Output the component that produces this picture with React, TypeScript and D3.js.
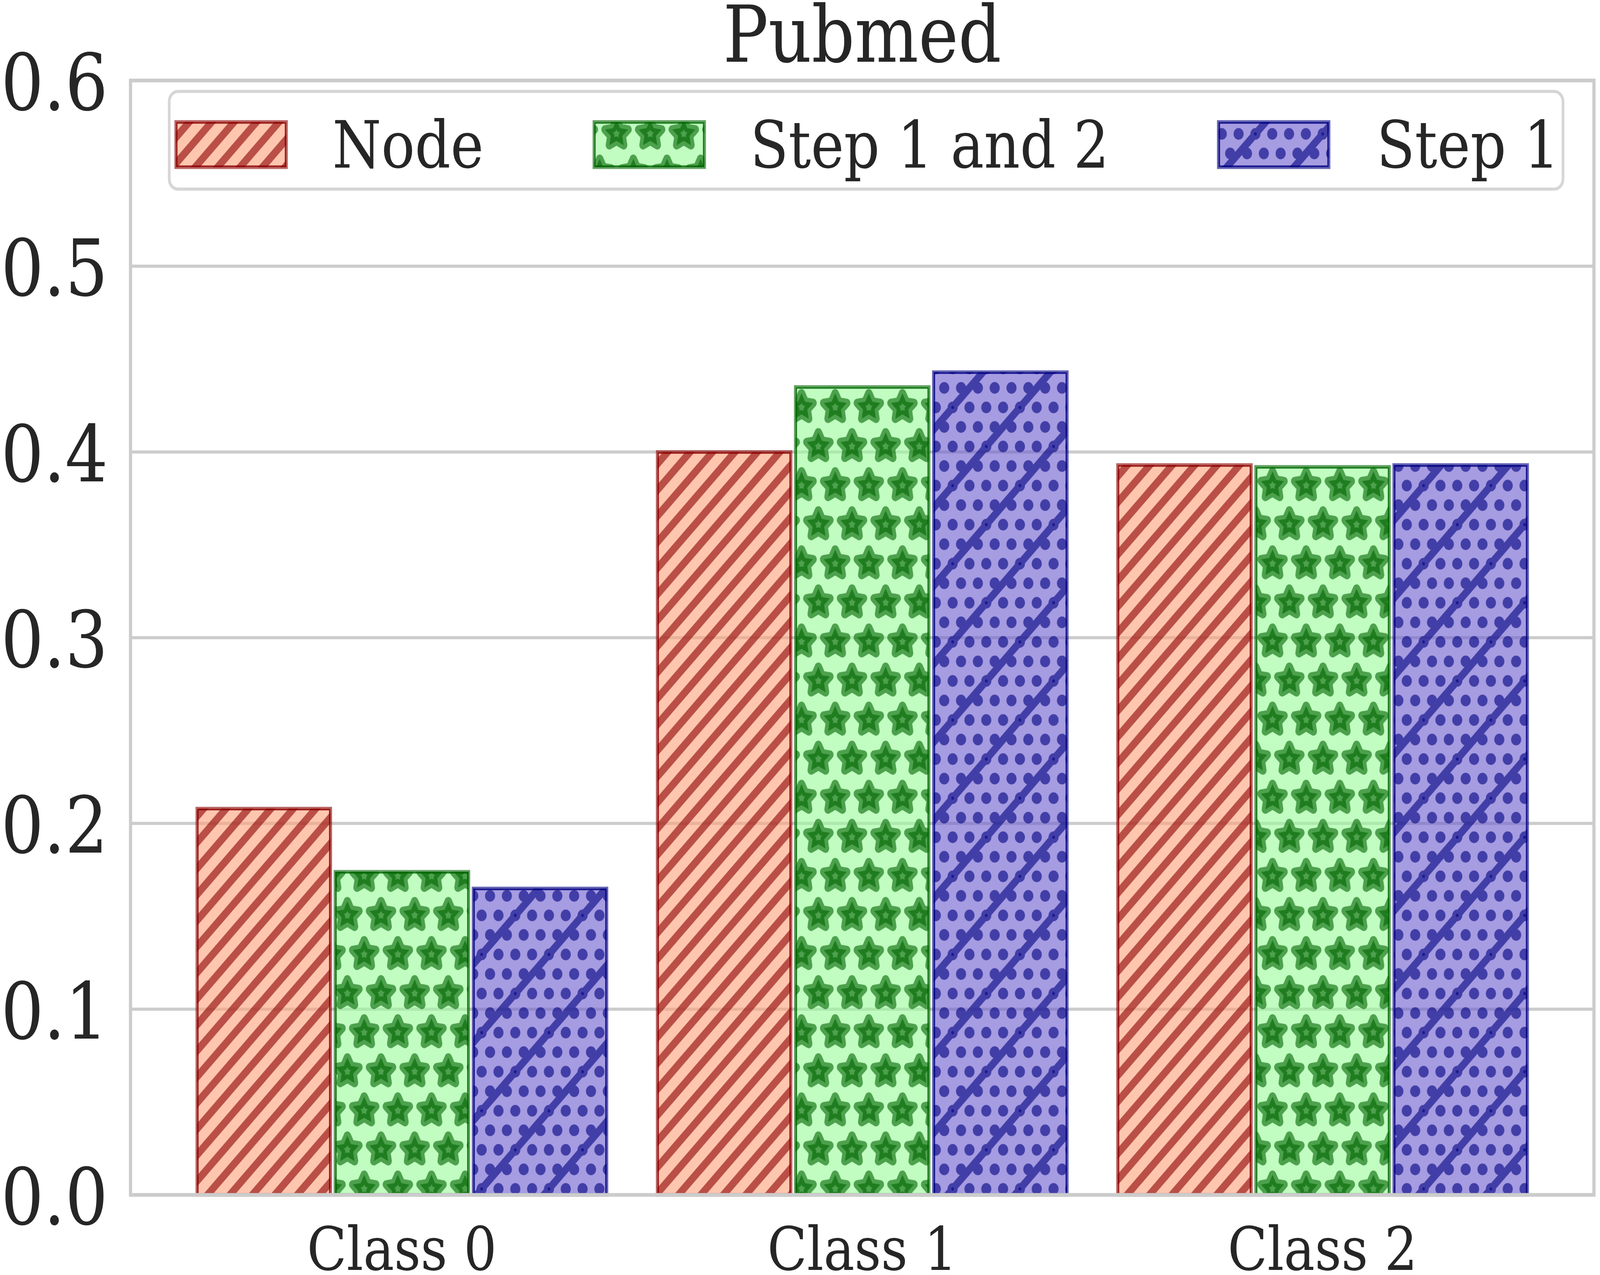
import React from 'react';
import * as d3 from 'd3';

// ---- data ----
const categories = ['Class 0', 'Class 1', 'Class 2'];
const seriesNames = ['Node', 'Step 1 and 2', 'Step 1'];
const nodeValues = [0.208, 0.4, 0.393];
const step12Values = [0.174, 0.435, 0.392];
const step1Values = [0.165, 0.443, 0.393];
const yTicks = [0, 0.1, 0.2, 0.3, 0.4, 0.5, 0.6];
const chartTitle = 'Pubmed';

const seriesValues = [nodeValues, step12Values, step1Values];
const seriesOffsets = [-0.3, 0, 0.3];
const barWidth = 0.29;

const seriesStyles = [
  { fill: '#ffa07a', dark: '#8b0000', pat: 'hatchRed' },
  { fill: '#98fb98', dark: '#006400', pat: 'hatchGreen' },
  { fill: '#6a5acd', dark: '#000080', pat: 'hatchBlue' },
];

const W = 4756;
const H = 3263;
const M = { left: 388, right: 4738, top: 206, bottom: 3058 };
const FONT = '"DejaVu Serif", serif';
const TEXT = '#262626';

function starPath(R: number, r: number) {
  const pts: [number, number][] = [];
  for (let k = 0; k < 10; k++) {
    const a = -Math.PI / 2 + (k * Math.PI) / 5;
    const rad = k % 2 === 0 ? R : r;
    pts.push([rad * Math.cos(a), rad * Math.sin(a)]);
  }
  return 'M' + pts.map((p) => p[0].toFixed(2) + ',' + p[1].toFixed(2)).join('L') + 'Z';
}

function Bar({ x, y, w, h, s }: { x: number; y: number; w: number; h: number; s: typeof seriesStyles[0] }) {
  return (
    <g>
      <rect x={x} y={y} width={w} height={h} fill={s.fill} fillOpacity={0.6} />
      <rect x={x} y={y} width={w} height={h} fill={`url(#${s.pat})`} />
      <rect x={x} y={y} width={w} height={h} fill="none" stroke={s.dark} strokeOpacity={0.6} strokeWidth={9} />
      <rect x={x + 2.5} y={y + 2.5} width={Math.max(0, w - 5)} height={Math.max(0, h - 5)} fill="none" stroke={s.dark} strokeOpacity={0.6} strokeWidth={4} />
    </g>
  );
}

export default function App() {
  const x = d3.scaleLinear().domain([-0.5895, 2.5895]).range([M.left, M.right]);
  const y = d3.scaleLinear().domain([0, 0.6]).range([M.bottom, M.top]);
  const bw = x(barWidth) - x(0);

  // pattern pieces
  const redP = 200 / 3;
  const star = starPath(36, 18);
  const starCenters: [number, number][] = [
    [0, 0], [100, 0], [0, 200], [100, 200], [50, 100], [-50, 100], [150, 100],
  ];
  const blueCircles: [number, number][] = [];
  for (let k = -1; k <= 5; k++) {
    const yy = k * 50;
    const off = Math.abs(k) % 2 === 1 ? 25 : 0;
    for (let xx = -50 + off; xx <= 250; xx += 50) blueCircles.push([xx, yy]);
  }
  const blueDots: [number, number][] = [[0, 0], [200, 0], [100, 100], [0, 200], [200, 200]];

  const legendItems = [
    { px: 523, tx: 988 },
    { px: 1766, tx: 2230 },
    { px: 3622, tx: 4092 },
  ];

  return (
    <svg
      viewBox={`0 0 ${W} ${H}`}
      preserveAspectRatio="none"
      style={{ position: 'fixed', left: 0, top: 0, width: '100vw', height: '100vh', background: '#fff', display: 'block' }}
    >
      <defs>
        <pattern id="hatchRed" patternUnits="userSpaceOnUse" x={8} y={0} width={redP} height={redP}>
          <g stroke="#8b0000" strokeOpacity={0.6} strokeWidth={20}>
            <line x1={-20} y1={20} x2={20} y2={-20} />
            <line x1={-20} y1={redP + 20} x2={redP + 20} y2={-20} />
            <line x1={redP - 20} y1={redP + 20} x2={redP + 20} y2={redP - 20} />
          </g>
        </pattern>
        <pattern id="hatchGreen" patternUnits="userSpaceOnUse" x={32.6} y={142.5} width={100} height={200}>
          {starCenters.map((c, i) => (
            <path key={i} d={star} transform={`translate(${c[0]},${c[1]})`} fill="#006400" fillOpacity={0.6}
              stroke="#006400" strokeOpacity={0.6} strokeWidth={22} strokeLinejoin="round" />
          ))}
        </pattern>
        <pattern id="hatchBlue" patternUnits="userSpaceOnUse" x={31.7} y={42.7} width={200} height={200}>
          <g opacity={0.6}>
            {blueCircles.map((c, i) => (
              <circle key={i} cx={c[0]} cy={c[1]} r={15} fill="#000080" />
            ))}
            <g stroke="#000080" strokeWidth={20}>
              <line x1={-30} y1={30} x2={30} y2={-30} />
              <line x1={-30} y1={230} x2={230} y2={-30} />
              <line x1={170} y1={230} x2={230} y2={170} />
            </g>
          </g>
          {blueDots.map((c, i) => (
            <circle key={i} cx={c[0]} cy={c[1]} r={4} fill="#000080" fillOpacity={0.6} />
          ))}
        </pattern>
      </defs>

      {/* grid */}
      {yTicks.map((t) => (
        <line key={'g' + t} x1={M.left} x2={M.right} y1={y(t)} y2={y(t)} stroke="#cccccc" strokeWidth={8} />
      ))}

      {/* bars */}
      {seriesValues.map((vals, si) =>
        vals.map((v, ci) => {
          const cx = x(ci + seriesOffsets[si]);
          return <Bar key={si + '-' + ci} x={cx - bw / 2} y={y(v)} w={bw} h={y(0) - y(v)} s={seriesStyles[si]} />;
        })
      )}

      {/* spines */}
      <rect x={M.left} y={M.top} width={M.right - M.left} height={M.bottom - M.top} fill="none" stroke="#cccccc" strokeWidth={9.5} />

      {/* y tick labels */}
      {yTicks.map((t) => (
        <text key={'yl' + t} x={321} y={y(t) + 75} textAnchor="end" fontFamily={FONT} fontSize={200} fill={TEXT}>
          {d3.format('.1f')(t)}
        </text>
      ))}

      {/* x tick labels */}
      {categories.map((c, i) => (
        <text key={c} x={x(i)} y={3250} textAnchor="middle" fontFamily={FONT} fontSize={154} fill={TEXT}>
          {c}
        </text>
      ))}

      {/* title */}
      <text x={(M.left + M.right) / 2} y={158} textAnchor="middle" fontFamily={FONT} fontSize={200} fill={TEXT}>
        {chartTitle}
      </text>

      {/* legend */}
      <rect x={503} y={234} width={4143} height={250} rx={26} fill="#ffffff" fillOpacity={0.8} stroke="#cccccc" strokeOpacity={0.8} strokeWidth={8} />
      {seriesNames.map((name, i) => (
        <g key={name}>
          <Bar x={legendItems[i].px} y={312} w={328} h={116} s={seriesStyles[i]} />
          <text x={legendItems[i].tx} y={429} fontFamily={FONT} fontSize={166} fill={TEXT}>
            {name}
          </text>
        </g>
      ))}
    </svg>
  );
}
